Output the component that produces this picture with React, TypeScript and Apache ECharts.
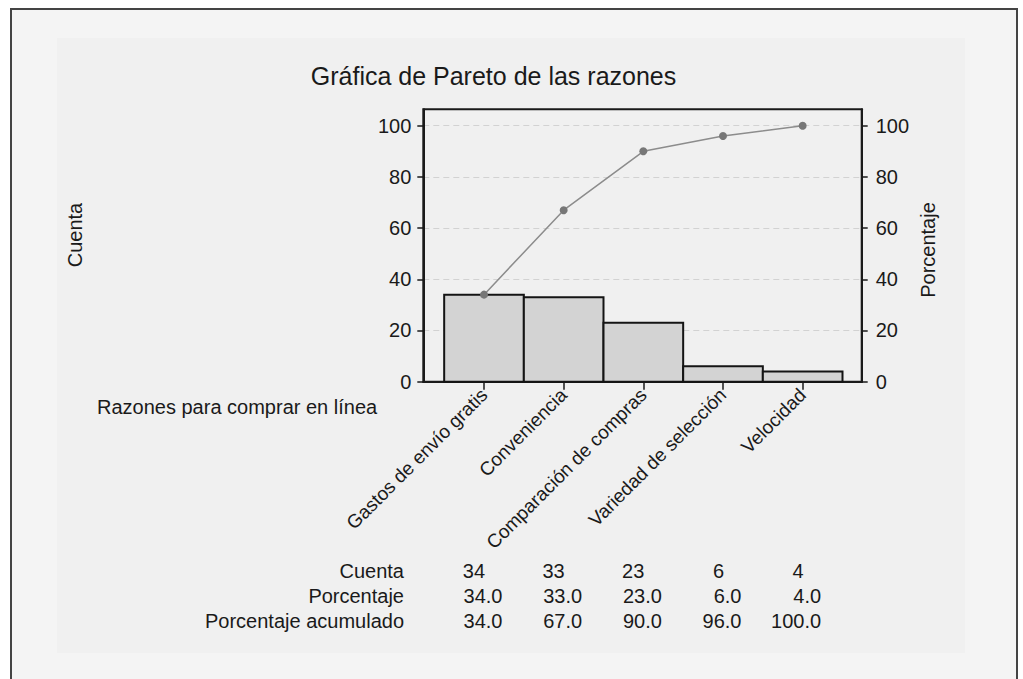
import React, { useEffect, useRef } from "react";
import * as echarts from "echarts";

const categories = [
  "Gastos de envío gratis",
  "Conveniencia",
  "Comparación de compras",
  "Variedad de selección",
  "Velocidad",
];
const counts = [34, 33, 23, 6, 4];
const percents = [34.0, 33.0, 23.0, 6.0, 4.0];
const cumulative = [34.0, 67.0, 90.0, 96.0, 100.0];
const yTicks = [0, 20, 40, 60, 80, 100];
const catTicks = [0, 1, 2, 3, 4];
const rowLabels = ["Cuenta", "Porcentaje", "Porcentaje acumulado"];

const FONT = "'Liberation Sans', Arial, sans-serif";
const TEXT = "#1a1a1a";
const AXIS = "#1a1a1a";

export default function App() {
  const ref = useRef<HTMLDivElement>(null);

  useEffect(() => {
    const chart = echarts.init(ref.current!, null, { renderer: "svg" });
    const gridLeft = 423.3;
    const gridTop = 109.3;
    const gridRight = 861.7;
    const gridBottom = 381.7;

    const yAxisCommon = (position: "left" | "right", margin: number) => ({
      type: "value",
      position,
      min: 0,
      max: 106.4,
      axisLine: { show: true, onZero: false, lineStyle: { color: AXIS, width: 2 } },
      axisTick: {
        show: true,
        customValues: yTicks,
        length: 6,
        lineStyle: { color: AXIS, width: 1.5 },
      },
      axisLabel: {
        customValues: yTicks,
        fontSize: 20,
        color: TEXT,
        margin,
        fontFamily: FONT,
      },
      splitLine: {
        show: position === "left",
        lineStyle: { color: "#d2d2d2", width: 1, type: [6, 4] },
      },
    });

    const option: any = {
      animation: false,
      textStyle: { fontFamily: FONT },
      grid: {
        left: gridLeft,
        top: gridTop,
        width: gridRight - gridLeft,
        height: gridBottom - gridTop,
        show: true,
        borderColor: AXIS,
        borderWidth: 2,
        backgroundColor: "transparent",
      },
      xAxis: {
        type: "value",
        min: -0.762,
        max: 4.741,
        axisLine: { show: true, onZero: false, lineStyle: { color: AXIS, width: 2 } },
        axisTick: {
          show: true,
          customValues: catTicks,
          length: 8,
          lineStyle: { color: AXIS, width: 1.5 },
        },
        axisLabel: {
          customValues: catTicks,
          formatter: (v: number) => categories[Math.round(v)] ?? "",
          rotate: 45,
          fontSize: 19,
          color: TEXT,
          margin: 10,
          fontFamily: FONT,
        },
        splitLine: { show: false },
      },
      yAxis: [yAxisCommon("left", 12), yAxisCommon("right", 14)],
      series: [
        {
          type: "custom",
          xAxisIndex: 0,
          yAxisIndex: 0,
          data: counts.map((c, i) => [i, c]),
          encode: { x: 0, y: 1 },
          z: 2,
          renderItem: (params: any, api: any) => {
            const i = api.value(0);
            const v = api.value(1);
            const tl = api.coord([i - 0.5, v]);
            const br = api.coord([i + 0.5, 0]);
            return {
              type: "rect",
              shape: { x: tl[0], y: tl[1], width: br[0] - tl[0], height: br[1] - tl[1] },
              style: { fill: "#d3d3d3", stroke: "#141414", lineWidth: 2 },
            };
          },
        },
        {
          type: "line",
          xAxisIndex: 0,
          yAxisIndex: 1,
          data: cumulative.map((c, i) => [i, c]),
          z: 3,
          symbol: "circle",
          symbolSize: 8,
          lineStyle: { color: "#8c8c8c", width: 1.5 },
          itemStyle: { color: "#777777" },
        },
      ],
    };
    chart.setOption(option);

    const centers = catTicks.map((i) => chart.convertToPixel({ xAxisIndex: 0 }, i) as number);
    const rowY = [571, 596, 621];
    const txt = (text: string, x: number, y: number, align: string, size = 20, extra: any = {}) => ({
      type: "text",
      x,
      y,
      ...extra,
      style: {
        text,
        fontSize: size,
        fontFamily: FONT,
        fill: TEXT,
        align,
        verticalAlign: "middle",
      },
    });
    const graphic: any[] = [
      txt("Gráfica de Pareto de las razones", 493.5, 76, "center", 25),
      txt("Razones para comprar en línea", 97, 407, "left", 20),
      txt("Cuenta", 75, 235, "center", 20, { rotation: Math.PI / 2 }),
      txt("Porcentaje", 928, 250, "center", 20, { rotation: Math.PI / 2 }),
    ];
    rowLabels.forEach((r, k) => graphic.push(txt(r, 404, rowY[k], "right")));
    centers.forEach((cx, i) => {
      graphic.push(txt(String(counts[i]), cx + 1, rowY[0], "right"));
      graphic.push(txt(percents[i].toFixed(1), cx + 18.5, rowY[1], "right"));
      graphic.push(txt(cumulative[i].toFixed(1), cx + 18.5, rowY[2], "right"));
    });
    chart.setOption({ graphic });

    return () => chart.dispose();
  }, []);

  return (
    <div
      style={{
        position: "fixed",
        left: 0,
        top: 0,
        width: 1023,
        height: 679,
        background: "#ffffff",
        overflow: "hidden",
      }}
    >
      <div
        style={{
          position: "absolute",
          left: 10,
          top: 8,
          width: 1008,
          height: 720,
          boxSizing: "border-box",
          border: "2px solid #444",
          background: "#f4f4f4",
        }}
      />
      <div
        style={{
          position: "absolute",
          left: 57,
          top: 38,
          width: 908,
          height: 615,
          background: "#f0f0f0",
        }}
      />
      <div
        ref={ref}
        style={{ position: "absolute", left: 0, top: 0, width: 1023, height: 679 }}
      />
    </div>
  );
}
